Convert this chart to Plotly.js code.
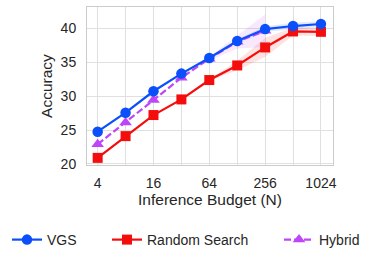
<!DOCTYPE html>
<html><head><meta charset="utf-8">
<script src="https://cdn.plot.ly/plotly-3.0.1.min.js"></script>
<style>body{margin:0;padding:0;background:#fff}#c{width:380px;height:262px}</style>
</head><body><div id="c"></div>
<script>
const budget = [4, 8, 16, 32, 64, 128, 256, 512, 1024];
const vgs = [24.75, 27.55, 30.7, 33.3, 35.6, 38.1, 39.85, 40.3, 40.6];
const vgsErr = [0, 0, 0, 0, 0.1, 0.2, 0.4, 0.5, 0.4];
const random = [20.9, 24.1, 27.2, 29.5, 32.35, 34.5, 37.15, 39.5, 39.45];
const randomErr = [0, 0, 0, 0, 0.1, 0.7, 1.4, 0.6, 0.6];
const hybridBudget = [4, 8, 16, 32, 64, 128, 256];
const hybrid = [22.9, 26.1, 29.4, 32.7, 35.5, 38.0, 39.6];
const hybridErr = [0, 0, 0, 0, 0.3, 1.0, 2.4];
const tickVals = [4, 8, 16, 32, 64, 128, 256, 512, 1024];
const tickText = ['4', '', '16', '', '64', '', '256', '', '1024'];
const yTicks = [20, 25, 30, 35, 40];

const cBlue = '#0a4ffa', cRed = '#f40d0d', cPurple = '#bf45fa';
function band(x, y, e, fill, leg) {
  const up = y.map((v, i) => v + e[i]);
  const lo = y.map((v, i) => v - e[i]);
  return {x: x.concat(x.slice().reverse()), y: up.concat(lo.reverse()),
    fill: 'toself', fillcolor: fill, line: {width: 0}, mode: 'lines',
    hoverinfo: 'skip', showlegend: false, legend: leg};
}
const data = [
  band(budget, vgs, vgsErr, 'rgba(10,79,250,0.12)', 'legend'),
  band(budget, random, randomErr, 'rgba(244,13,13,0.12)', 'legend2'),
  band(hybridBudget, hybrid, hybridErr, 'rgba(191,69,250,0.12)', 'legend3'),
  {x: budget, y: random, name: 'Random Search', mode: 'lines+markers', legend: 'legend2',
   line: {color: cRed, width: 2.2}, marker: {symbol: 'square', size: 10, color: cRed}},
  {x: hybridBudget, y: hybrid, name: 'Hybrid', mode: 'lines+markers', legend: 'legend3',
   line: {color: cPurple, width: 2.2, dash: '7px,3px'}, marker: {symbol: 'triangle-up', size: 11, color: cPurple}},
  {x: budget, y: vgs, name: 'VGS', mode: 'lines+markers', legend: 'legend',
   line: {color: cBlue, width: 2.2}, marker: {symbol: 'circle', size: 10.5, color: cBlue}}
];
const ff = 'Liberation Sans, Arial, sans-serif';
const font = {family: ff, size: 14, color: '#262626'};
const titleFont = {family: ff, size: 15.5, color: '#262626'};
const legBase = {orientation: 'h', xref: 'container', yref: 'container', yanchor: 'middle', y: 1 - 240/262,
  xanchor: 'left', bgcolor: 'rgba(0,0,0,0)', font: font, borderwidth: 0};
const layout = {
  width: 380, height: 262, font: font,
  margin: {l: 87, r: 47, t: 7, b: 97},
  paper_bgcolor: '#fff', plot_bgcolor: '#fff',
  xaxis: {type: 'log', range: [Math.log10(4) - 0.115, Math.log10(1024) + 0.13],
    tickvals: tickVals, ticktext: tickText, showgrid: true, gridcolor: '#e0e0e0', gridwidth: 1,
    showline: true, mirror: true, linecolor: '#cccccc', linewidth: 1, zeroline: false,
    ticks: '', ticklabelstandoff: 5, tickfont: font,
    title: {text: 'Inference Budget (N)', font: titleFont, standoff: 2}},
  yaxis: {range: [19.85, 43.1], tickvals: yTicks, showgrid: true, gridcolor: '#e0e0e0', gridwidth: 1,
    showline: true, mirror: true, linecolor: '#cccccc', linewidth: 1, zeroline: false,
    ticks: '', ticklabelstandoff: 7, tickfont: font,
    title: {text: 'Accuracy', font: titleFont, standoff: 4}},
  legend: Object.assign({}, legBase, {x: 7/380}),
  legend2: Object.assign({}, legBase, {x: 107/380}),
  legend3: Object.assign({}, legBase, {x: 279/380}),
  showlegend: true
};
Plotly.newPlot('c', data, layout, {displayModeBar: false, staticPlot: true});
</script></body></html>
